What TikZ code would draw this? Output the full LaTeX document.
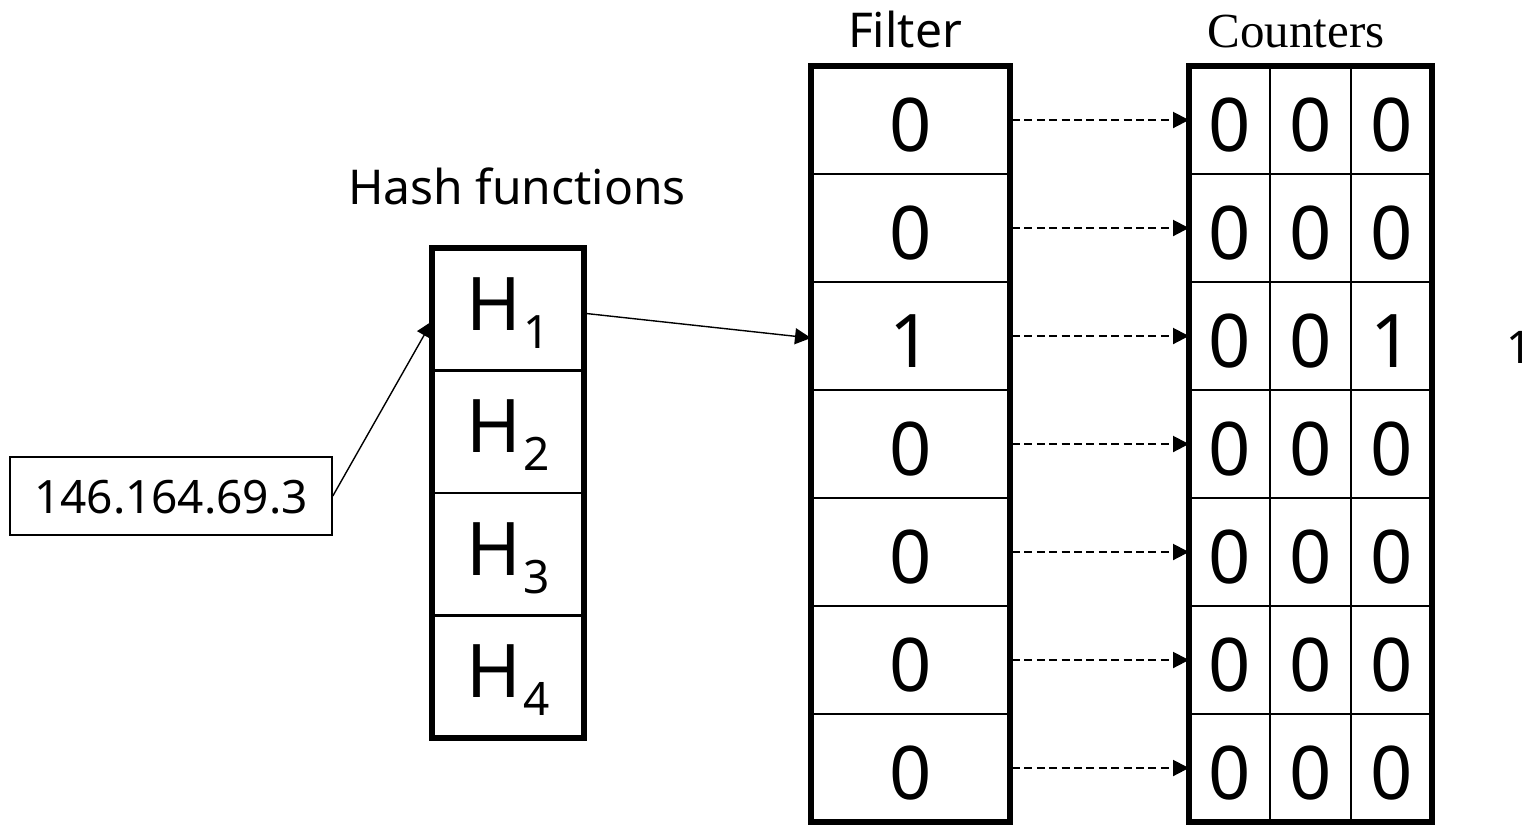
\documentclass[tikz,border=0pt]{standalone}
\usepackage{fontspec}
\setmainfont{Noto Sans}
\newfontfamily\countfont{Liberation Serif}
\usetikzlibrary{arrows.meta}

% hash function label with a lowered index
\newcommand\Hfn[1]{H\kern1pt\raisebox{-9pt}{\fontsize{23}{23}\selectfont #1}}

\begin{document}
\begin{tikzpicture}[x=0.5pt,y=-0.5pt,
  cell/.style={draw, line width=1.25pt, inner sep=0pt, outer sep=0pt,
    text height=31pt, text depth=0pt, font=\fontsize{37}{37}\selectfont},
  bitcell/.style={cell, minimum width=99.5pt, minimum height=54pt},
  cntcell/.style={cell, minimum width=40.5pt, minimum height=54pt},
  hashcell/.style={draw, line width=1.25pt, inner sep=0pt, outer sep=0pt,
    minimum width=76pt, minimum height=61.25pt,
    text height=21pt, text depth=0pt, font=\fontsize{37}{37}\selectfont},
  frame/.style={line width=2.75pt},
  title/.style={anchor=base, inner sep=0pt, font=\fontsize{24}{24}\selectfont},
  link/.style={line width=0.7pt, -{Triangle[length=8pt,width=8pt]}},
  feed/.style={line width=1pt, dash pattern=on 4pt off 2.2pt,
    -{Triangle[length=8pt,width=8pt]}},
]
\fill[white] (0,0) rectangle (1532,827);
\useasboundingbox (0,0) rectangle (1532,827);

% titles
\node[title] (ftitle) at (905,47) {Filter};
\node[title, font=\countfont\fontsize{24.5}{24.5}\selectfont] (ctitle) at (1296,47) {Counters};
\node[title] (htitle) at (517,204) {Hash functions};

% input address
\node[draw, line width=0.8pt, minimum width=161pt, minimum height=39pt,
  inner sep=0pt, text height=17pt, text depth=0pt,
  font=\fontsize{23}{23}\selectfont] (ip) at (171,496) {146.164.69.3};

% hash functions
\foreach \i in {1,...,4}
  \node[hashcell] (h\i) at (508,{248+61.25+122.5*(\i-1)}) {\Hfn{\i}};
\draw[frame] (h1.north west) rectangle (h4.south east);

% filter bits
\foreach \i/\v in {1/0,2/0,3/1,4/0,5/0,6/0,7/0}
  \node[bitcell] (f\i) at (910.5,{120+108*(\i-1)}) {\v};
\draw[frame] (f1.north west) rectangle (f7.south east);

% counters
\foreach \i/\a/\b/\c in {1/0/0/0,2/0/0/0,3/0/0/1,4/0/0/0,5/0/0/0,6/0/0/0,7/0/0/0}{
  \node[cntcell] (cA\i) at (1229.5,{120+108*(\i-1)}) {\a};
  \node[cntcell] (cB\i) at (1310.5,{120+108*(\i-1)}) {\b};
  \node[cntcell] (cC\i) at (1391.5,{120+108*(\i-1)}) {\c};
}
\draw[frame] (cA1.north west) rectangle (cC7.south east);

\node[anchor=base, inner sep=0pt, font=\fontsize{22.5}{22.5}\selectfont] (extra) at (1519,363) {1};

% connectors
\draw[link] (ip.east) -- ([yshift=-6pt]h1.west);
\draw[link] ([yshift=-2pt]h1.east) -- ([yshift=-1pt]f3.west);
\foreach \i in {1,...,7}
  \draw[feed] ([xshift=1pt]f\i.east) -- (cA\i.west);
\end{tikzpicture}
\end{document}
